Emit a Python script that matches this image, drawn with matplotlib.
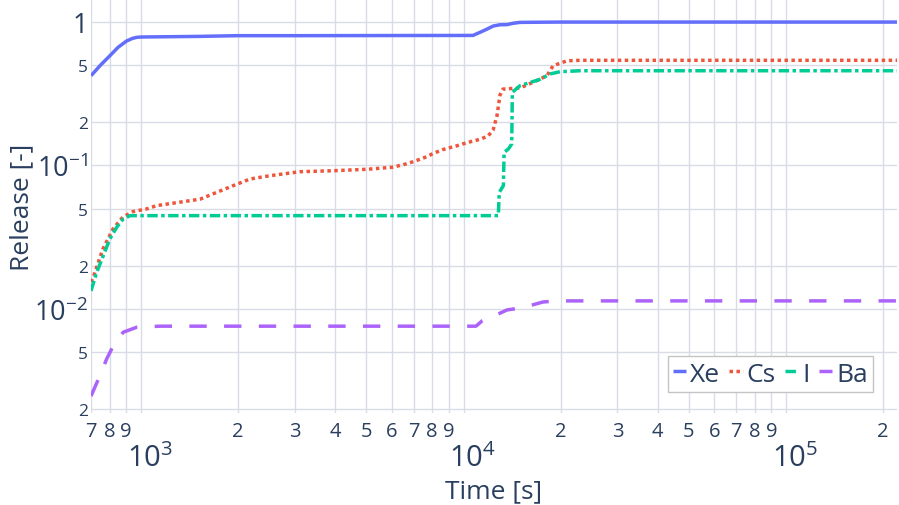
import matplotlib
matplotlib.use("Agg")
import matplotlib.pyplot as plt
from matplotlib.ticker import FixedLocator, FixedFormatter
from matplotlib.transforms import ScaledTranslation

plt.rcParams["font.family"] = ["Open Sans", "DejaVu Sans"]
plt.rcParams["mathtext.fontset"] = "custom"
plt.rcParams["mathtext.rm"] = "Open Sans"
plt.rcParams["mathtext.it"] = "Open Sans:italic"
plt.rcParams["mathtext.bf"] = "Open Sans:bold"

# ---------------- release fractions vs. time ----------------
xe_t = [700, 750, 801, 850, 903, 940, 970, 1000, 1523, 2000, 3112, 6353, 10700,
        11250, 11830, 12350, 12970, 13650, 14230, 14960, 19900, 220800]
xe_v = [0.421, 0.500, 0.580, 0.665, 0.735, 0.765, 0.779, 0.783, 0.791, 0.800,
        0.800, 0.802, 0.803, 0.844, 0.889, 0.933, 0.953, 0.955, 0.975, 0.990,
        0.995, 0.995]

cs_t = [700, 711, 762, 819, 879, 944, 1042, 1119, 1524, 1929, 2178, 2512,
        3112, 3938, 5021, 6000, 6494, 6970, 7705, 8043, 8641, 9545, 10250,
        11250, 11910, 12350, 12700, 12980, 13260, 14970, 16430, 18150, 18950,
        20940, 22970, 220800]
cs_v = [0.0154, 0.0166, 0.0262, 0.0361, 0.0437, 0.0477, 0.0498, 0.0525,
        0.0582, 0.0722, 0.0804, 0.0848, 0.0904, 0.0918, 0.094, 0.097, 0.101,
        0.106, 0.115, 0.121, 0.129, 0.137, 0.144, 0.152, 0.160, 0.176, 0.222,
        0.310, 0.340, 0.346, 0.379, 0.421, 0.494, 0.535, 0.539, 0.539]

i_t = [700, 729, 764, 801, 841, 881, 925, 12820, 12910, 13290, 13360, 13770,
       14110, 14170, 14970, 17260, 18540, 19910, 22960, 220800]
i_v = [0.0134, 0.0180, 0.0235, 0.0308, 0.0371, 0.0424, 0.0447, 0.0447, 0.065,
       0.0722, 0.123, 0.130, 0.141, 0.323, 0.359, 0.397, 0.433, 0.449, 0.456,
       0.456]

ba_t = [700, 705, 746, 783, 821, 881, 970, 1145, 10930, 11410, 12090, 13640,
        15180, 17640, 19500, 220800]
ba_v = [0.00248, 0.00257, 0.00344, 0.0045, 0.00556, 0.0069, 0.00747, 0.0076,
        0.0076, 0.00826, 0.0087, 0.00986, 0.0102, 0.0112, 0.0114, 0.0114]

series_names = ["Xe", "Cs", "I", "Ba"]

# axis ticks
x_major_ticks = [1e3, 1e4, 1e5]
x_major_labels = [r"$\mathregular{10^{3}}$", r"$\mathregular{10^{4}}$",
                  r"$\mathregular{10^{5}}$"]
x_minor_digits = {2: [7, 8, 9], 3: [2, 3, 4, 5, 6, 7, 8, 9],
                  4: [2, 3, 4, 5, 6, 7, 8, 9], 5: [2]}
y_major_ticks = [1e-2, 1e-1, 1.0]
y_major_labels = [r"$\mathregular{10^{-2}}$", r"$\mathregular{10^{-1}}$", "1"]
y_minor_ticks = [2e-3, 5e-3, 2e-2, 5e-2, 0.2, 0.5]
y_minor_labels = ["2", "5", "2", "5", "2", "5"]

x_range = (700, 220800)
y_range = (0.00189, 1.44)

# ---------------- styling ----------------
TEXT = "#2a3f5f"
GRID = "#d9dce6"
LW = 2.5
styles = [
    dict(color="#636efa", linestyle="-"),
    dict(color="#ef553b", dashes=(1, 1)),
    dict(color="#00cc96", dashes=(3, 1, 1, 1)),
    dict(color="#ab63fa", dashes=(5, 5)),
]

W, H = 899, 506
fig = plt.figure(figsize=(W / 100, H / 100), dpi=100)
ax = fig.add_axes([91 / W, 1 - 414 / H, 806 / W, 414 / H])
ax.set_xscale("log")
ax.set_yscale("log")

for (t, v), name, st in zip([(xe_t, xe_v), (cs_t, cs_v), (i_t, i_v), (ba_t, ba_v)],
                            series_names, styles):
    ax.plot(t, v, lw=LW, label=name, solid_capstyle="butt",
            dash_capstyle="butt", solid_joinstyle="round", **st)

ax.set_xlim(*x_range)
ax.set_ylim(*y_range)

x_minor_ticks = [d * 10 ** e for e, ds in x_minor_digits.items() for d in ds]
x_minor_labels = [str(d) for e, ds in x_minor_digits.items() for d in ds]

ax.xaxis.set_major_locator(FixedLocator(x_major_ticks))
ax.xaxis.set_major_formatter(FixedFormatter(x_major_labels))
ax.xaxis.set_minor_locator(FixedLocator(x_minor_ticks))
ax.xaxis.set_minor_formatter(FixedFormatter(x_minor_labels))
ax.yaxis.set_major_locator(FixedLocator(y_major_ticks))
ax.yaxis.set_major_formatter(FixedFormatter(y_major_labels))
ax.yaxis.set_minor_locator(FixedLocator(y_minor_ticks))
ax.yaxis.set_minor_formatter(FixedFormatter(y_minor_labels))

ax.tick_params(axis="both", which="both", length=0, colors=TEXT)
ax.tick_params(axis="x", which="minor", labelsize=14.5, pad=5.5)
ax.tick_params(axis="x", which="major", labelsize=21, pad=22)
ax.tick_params(axis="y", which="minor", labelsize=12.5, pad=2)
ax.tick_params(axis="y", which="major", labelsize=19.5, pad=2)

ax.grid(True, which="both", color=GRID, lw=1.0)
ax.set_axisbelow(True)
for s in ax.spines.values():
    s.set_visible(False)

ax.set_xlabel("Time [s]", fontsize=19, color=TEXT)
ax.set_ylabel("Release [-]", fontsize=19, color=TEXT)
ax.xaxis.set_label_coords(0.5, -0.158)
ax.yaxis.set_label_coords(-0.070, 0.5)

leg = ax.legend(ncol=4, loc="lower right", bbox_to_anchor=(0.970, 0.0507),
                borderaxespad=0, fontsize=19, handlelength=0.5,
                handletextpad=0.15, columnspacing=0.35, borderpad=0.2,
                fancybox=False, framealpha=1, edgecolor="#c4c4c4",
                labelcolor=TEXT)
leg.get_frame().set_linewidth(1.0)

fig.canvas.draw()
for lbl in ax.get_xticklabels(which="major"):
    lbl.set_transform(lbl.get_transform() +
                      ScaledTranslation(9 / 100, 0, fig.dpi_scale_trans))

fig.savefig("out.png", dpi=100, facecolor="white")
